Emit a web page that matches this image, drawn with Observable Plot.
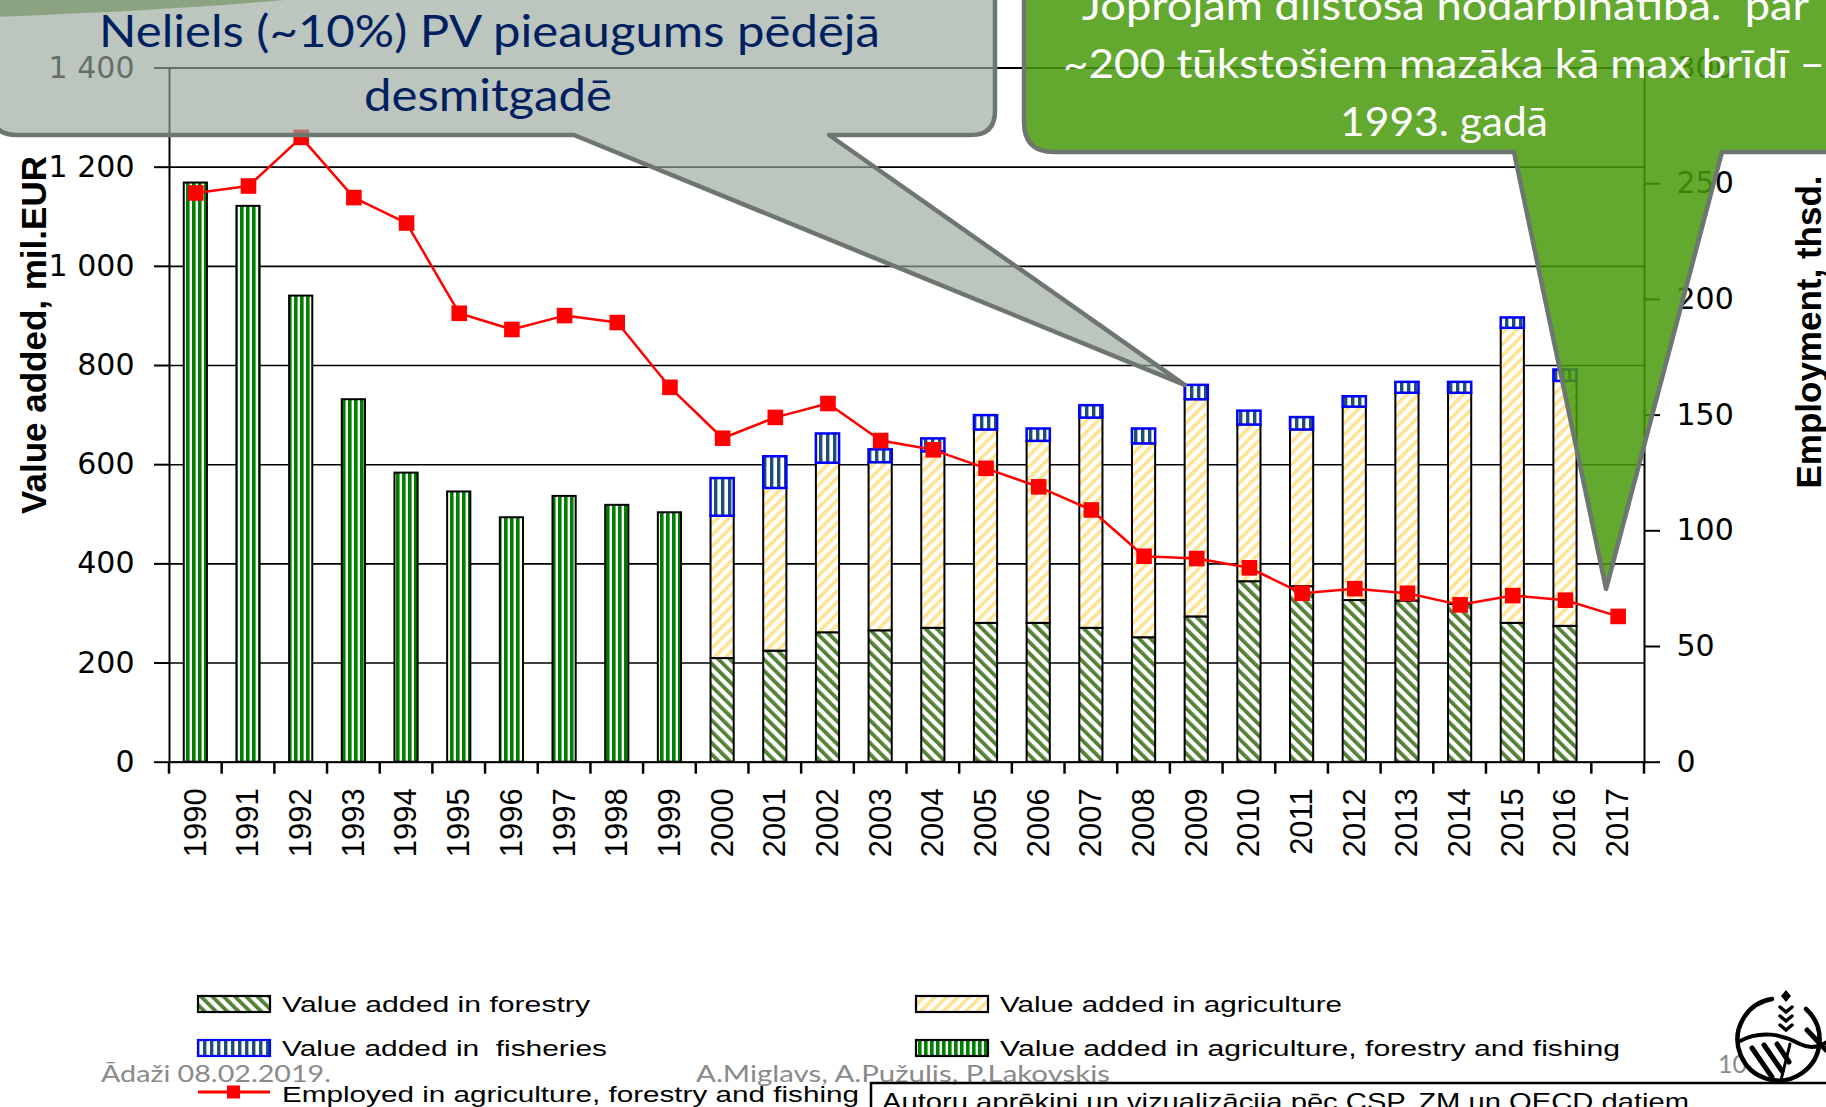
<!DOCTYPE html>
<html><head><meta charset="utf-8">
<script src="https://cdn.jsdelivr.net/npm/d3@7"></script>
<script src="https://cdn.jsdelivr.net/npm/@observablehq/plot@0.6"></script>
<style>
html,body{margin:0;padding:0;background:#fff;}
#page{position:relative;width:1826px;height:1107px;overflow:hidden;background:#fff;}
#chart{position:absolute;left:0;top:0;}
#legend{position:absolute;left:0;top:900px;}
</style></head>
<body>
<svg id="defs" width="0" height="0" style="position:absolute;left:0;top:0">
<defs>
<pattern id="pGreen" patternUnits="userSpaceOnUse" width="6" height="6"><rect width="6" height="6" fill="#fff"/><rect width="3.6" height="6" fill="#008000"/></pattern>
<pattern id="pForest" patternUnits="userSpaceOnUse" width="8" height="8" patternTransform="rotate(-45)"><rect width="8" height="8" fill="#fff"/><rect width="3.8" height="8" fill="#548235"/></pattern>
<pattern id="pAgri" patternUnits="userSpaceOnUse" width="8" height="8" patternTransform="rotate(45)"><rect width="8" height="8" fill="#fff"/><rect width="3.6" height="8" fill="#ffe391"/></pattern>
<pattern id="pFish" patternUnits="userSpaceOnUse" width="7" height="7"><rect width="7" height="7" fill="#fff"/><rect width="3.4" height="7" fill="#1f4e79"/></pattern>
</defs></svg>
<div id="page"><div id="chart"></div><svg id="legend" width="1826" height="207"></svg></div>
<script>
// ---------- data ----------
const years = [1990,1991,1992,1993,1994,1995,1996,1997,1998,1999,2000,2001,2002,2003,2004,2005,2006,2007,2008,2009,2010,2011,2012,2013,2014,2015,2016,2017];
const totalYears = [1990,1991,1992,1993,1994,1995,1996,1997,1998,1999];
const totalAFF = [1168,1121,940,731,583,545,493,536,518,503];
const sectorYears = [2000,2001,2002,2003,2004,2005,2006,2007,2008,2009,2010,2011,2012,2013,2014,2015,2016];
const forestry    = [209,224,261,265,270,280,280,270,251,293,364,354,326,325,318,280,274];
const agriculture = [287,328,342,339,356,390,367,424,391,438,316,316,390,419,426,595,494];
const fisheries   = [76,64,59,26,26,29,25,25,30,29,28,25,21,22,22,21,23];
const employment  = [246,249,270,244,233,194,187,193,190,162,140,149,155,139,135,127,119,109,89,88,84,73,75,73,68,72,70,63];
const leftTicks = [0,200,400,600,800,1000,1200,1400];
const rightTicks = [0,50,100,150,200,250,300];
const legendItems = ["Value added in forestry","Value added in agriculture","Value added in  fisheries","Value added in agriculture, forestry and fishing","Employed in agriculture, forestry and fishing"];

// ---------- derived tables ----------
const k = 1400 / 300; // right axis (thsd.) -> left axis units
const stackRows = sectorYears.flatMap((yr, i) => {
  const f = forestry[i], a = agriculture[i], s = fisheries[i];
  return [
    {year: yr, sector: "forestry", y1: 0, y2: f},
    {year: yr, sector: "agriculture", y1: f, y2: f + a},
    {year: yr, sector: "fisheries", y1: f + a, y2: f + a + s}
  ];
});
const totalRows = totalYears.map((yr, i) => ({year: yr, value: totalAFF[i]}));
const empRows = years.map((yr, i) => ({year: yr, emp: employment[i]}));
const idx2009 = sectorYears.indexOf(2009);
const top2009 = forestry[idx2009] + agriculture[idx2009] + fisheries[idx2009];

function txt(g, s, x, y, o) {
  const t = g.append("text").attr("x", x).attr("y", y).text(s).style("white-space", "pre");
  for (const [key, v] of Object.entries(o)) t.attr(key, v);
  return t;
}

// boundary tick marks below the x axis
const boundaryTicks = (index, scales, values, dims) => {
  const x = scales.x;
  const bw = x.bandwidth(), step = x.step();
  const gap = step - bw;
  const g = d3.create("svg:g").attr("stroke", "#000").attr("stroke-width", 2.5);
  const y0 = dims.height - dims.marginBottom;
  const xs = years.map(yr => x(yr) - gap / 2).concat([x(years[years.length - 1]) + bw + gap / 2]);
  for (const xv of xs) g.append("line").attr("x1", xv).attr("x2", xv).attr("y1", y0).attr("y2", y0 + 12);
  return g.node();
};

// axis titles
const titles = (index, scales, values, dims) => {
  const g = d3.create("svg:g").attr("font-family", "Liberation Sans, Arial, sans-serif").attr("font-weight", "bold").attr("font-size", 35).attr("fill", "#000");
  g.append("text").attr("transform", "translate(46,335) rotate(-90)").attr("text-anchor", "middle").text("Value added, mil.EUR");
  g.append("text").attr("transform", "translate(1821,332) rotate(-90)").attr("text-anchor", "middle").text("Employment, thsd.");
  return g.node();
};

// callouts
const callouts = (index, scales, values, dims) => {
  const {x, y} = scales;
  const g = d3.create("svg:g");
  g.append("path").attr("d", "M-5,-5 L335,-5 Q220,8 -5,17 Z").attr("fill", "#6f9a4a");
  // grey callout pointing at the 2009 bar
  const t1x = x(2009), t1y = y(top2009);
  const L = -8, B = 135, R = 995, r = 24;
  g.append("path")
    .attr("d", `M${L},-40 L${R},-40 L${R},${B - r} Q${R},${B} ${R - r},${B} L829,${B} L${t1x},${t1y} L574,${B} L${L + r},${B} Q${L},${B} ${L},${B - r} Z`)
    .attr("fill", "#9aa89e").attr("fill-opacity", 0.66)
    .attr("stroke", "#6d776f").attr("stroke-width", 4.5).attr("stroke-linejoin", "round");
  const gt = g.append("g").attr("font-family", "Lato, 'Open Sans', sans-serif").attr("fill", "#002060").attr("font-size", 44).attr("text-anchor", "middle");
  txt(gt, "Neliels (~10%) PV pieaugums pēdējā", 489.5, 47, {textLength: 781, lengthAdjust: "spacingAndGlyphs"});
  txt(gt, "desmitgadē", 488, 111, {textLength: 248, lengthAdjust: "spacingAndGlyphs"});
  // green callout pointing at 2017 employment
  const t2x = x(2017), t2y = y(employment[employment.length - 1] * k) - 27;
  const L2 = 1024, B2 = 152, r2 = 30;
  g.append("path")
    .attr("d", `M1900,-40 L1900,${B2} L1722,${B2} L${t2x},${t2y} L1514,${B2} L${L2 + r2},${B2} Q${L2},${B2} ${L2},${B2 - r2} L${L2},-40 Z`)
    .attr("fill", "#489a0b").attr("fill-opacity", 0.85)
    .attr("stroke", "#6d776f").attr("stroke-width", 4.5).attr("stroke-linejoin", "round");
  const gg = g.append("g").attr("font-family", "Lato, 'Open Sans', sans-serif").attr("fill", "#fff").attr("font-size", 40).attr("text-anchor", "middle");
  txt(gg, "Joprojām dilstoša nodarbinātība.  par", 1445.5, 20, {textLength: 727, lengthAdjust: "spacingAndGlyphs"});
  txt(gg, "~200 tūkstošiem mazāka kā max brīdī –", 1444, 78, {textLength: 762, lengthAdjust: "spacingAndGlyphs"});
  txt(gg, "1993. gadā", 1444, 136, {textLength: 208, lengthAdjust: "spacingAndGlyphs"});
  return g.node();
};

const chart = Plot.plot({
  width: 1826, height: 900,
  marginLeft: 169, marginRight: 182, marginTop: 67.5, marginBottom: 138.3,
  style: {fontFamily: "Liberation Sans, Arial, sans-serif", background: "transparent", color: "#000"},
  x: {type: "band", domain: years, paddingInner: 0.56, paddingOuter: 0.28, align: 0.5, round: false, axis: null, label: null},
  y: {domain: [0, 1400], axis: null, label: null},
  marks: [
    Plot.ruleY(leftTicks, {stroke: "#000", strokeWidth: 1.6}),
    Plot.barY(totalRows, {x: "year", y: "value", fill: "url(#pGreen)", stroke: "#000", strokeWidth: 2}),
    Plot.barY(stackRows.filter(d => d.sector === "forestry"), {x: "year", y1: "y1", y2: "y2", fill: "url(#pForest)", stroke: "#000", strokeWidth: 2}),
    Plot.barY(stackRows.filter(d => d.sector === "agriculture"), {x: "year", y1: "y1", y2: "y2", fill: "url(#pAgri)", stroke: "#000", strokeWidth: 2}),
    Plot.barY(stackRows.filter(d => d.sector === "fisheries"), {x: "year", y1: "y1", y2: "y2", fill: "url(#pFish)", stroke: "#0000ff", strokeWidth: 2.5}),
    Plot.frame({stroke: "#000", strokeWidth: 2}),
    Plot.axisY(leftTicks, {anchor: "left", label: null, tickSize: 15, tickPadding: 20, strokeWidth: 2,
      tickFormat: d => d3.format(",")(d).replace(/,/g, " "), fontSize: 30, fontFamily: "DejaVu Sans, sans-serif"}),
    Plot.axisY(rightTicks.map(v => v * k), {anchor: "right", label: null, tickSize: 15, tickPadding: 17, strokeWidth: 2,
      tickFormat: d => String(Math.round(d / k)), fontSize: 30, fontFamily: "DejaVu Sans, sans-serif"}),
    Plot.axisX(years, {anchor: "bottom", label: null, tickSize: 0, tickPadding: 26, rotate: -90,
      textAnchor: "end", lineAnchor: "middle",
      tickFormat: d => String(d), fontSize: 31, fontFamily: "Liberation Sans, Arial, sans-serif"}),
    boundaryTicks,
    Plot.line(empRows, {x: "year", y: d => d.emp * k, stroke: "#ff0000", strokeWidth: 2.5}),
    Plot.dot(empRows, {x: "year", y: d => d.emp * k, symbol: "square", r: 8.8, fill: "#ff0000", stroke: "none"}),
    titles,
    callouts
  ]
});
document.getElementById("chart").append(chart);

// ---------- legend + footer (below the chart svg) ----------
const lg = d3.select("#legend");
const OFF = 900;
const sw = [
  {x: 198, y: 996, fill: "url(#pForest)", stroke: "#000", label: legendItems[0], tx: 282, base: 1012, len: 308},
  {x: 916, y: 996, fill: "url(#pAgri)", stroke: "#000", label: legendItems[1], tx: 1000, base: 1012, len: 342},
  {x: 198, y: 1040, fill: "url(#pFish)", stroke: "#0000ff", label: legendItems[2], tx: 282, base: 1056, len: 325},
  {x: 916, y: 1040, fill: "url(#pGreen)", stroke: "#000", label: legendItems[3], tx: 1000, base: 1056, len: 620}
];
for (const s of sw) {
  lg.append("rect").attr("x", s.x).attr("y", s.y - OFF).attr("width", 72).attr("height", 16)
    .attr("fill", s.fill).attr("stroke", s.stroke).attr("stroke-width", 2.2);
}
lg.append("line").attr("x1", 198).attr("x2", 270).attr("y1", 1092 - OFF).attr("y2", 1092 - OFF).attr("stroke", "#ff0000").attr("stroke-width", 3);
lg.append("rect").attr("x", 227).attr("y", 1092 - OFF - 6.5).attr("width", 13).attr("height", 13).attr("fill", "#ff0000");
const lt = lg.append("g").attr("font-family", "Liberation Sans, Arial, sans-serif").attr("font-size", 22).attr("fill", "#000");
for (const s of sw) txt(lt, s.label, s.tx, s.base - OFF, {textLength: s.len, lengthAdjust: "spacingAndGlyphs"});
txt(lt, legendItems[4], 282, 1101.5 - OFF, {textLength: 577, lengthAdjust: "spacingAndGlyphs"});

// footer
const ft = lg.append("g").attr("font-family", "Lato, 'Open Sans', sans-serif").attr("fill", "#8a8a8a").attr("font-size", 24);
txt(ft, "Ādaži 08.02.2019.", 101, 1082 - OFF, {textLength: 230, lengthAdjust: "spacingAndGlyphs"});
txt(ft, "A.Miglavs, A.Pužulis, P.Lakovskis", 696, 1082 - OFF, {textLength: 414, lengthAdjust: "spacingAndGlyphs"});
txt(ft, "10", 1718, 1073 - OFF, {"font-size": 25});
lg.append("path").attr("d", `M871,${1107 - OFF} L871,${1083 - OFF} L1826,${1083 - OFF}`).attr("fill", "none").attr("stroke", "#000").attr("stroke-width", 2.5);
txt(lt, "Autoru aprēķini un vizualizācija pēc CSP, ZM un OECD datiem", 882, 1109.5 - OFF, {"font-size": 24, textLength: 807, lengthAdjust: "spacingAndGlyphs"});

// logo (approximate emblem)
const lo = lg.append("g").attr("transform", `translate(0,${-OFF})`).attr("stroke", "#000").attr("fill", "none").attr("stroke-linecap", "round");
lo.append("path").attr("d", "M1772,999 A41,41 0 1 0 1806,1009").attr("stroke-width", 4.5);
lo.append("path").attr("d", "M1740,1041 C1760,1030 1782,1034 1800,1044 C1812,1050 1822,1046 1830,1040").attr("stroke-width", 4);
lo.append("path").attr("d", "M1752,1048 L1772,1077 M1764,1045 L1782,1071 M1777,1044 L1789,1062").attr("stroke-width", 5);
lo.append("path").attr("d", "M1790,1044 L1781,1080").attr("stroke-width", 3);
lo.append("path").attr("d", "M1807,1030 L1826,1050").attr("stroke-width", 5);
lo.append("path").attr("d", "M1780,1007 l6,5 l6,-5 M1780,1016 l6,5 l6,-5 M1780,1025 l6,5 l6,-5").attr("stroke-width", 3.5);
lo.append("path").attr("d", "M1786,990 l5,6 l-5,6 l-5,-6z").attr("fill", "#000").attr("stroke", "none");
</script>
</body></html>
